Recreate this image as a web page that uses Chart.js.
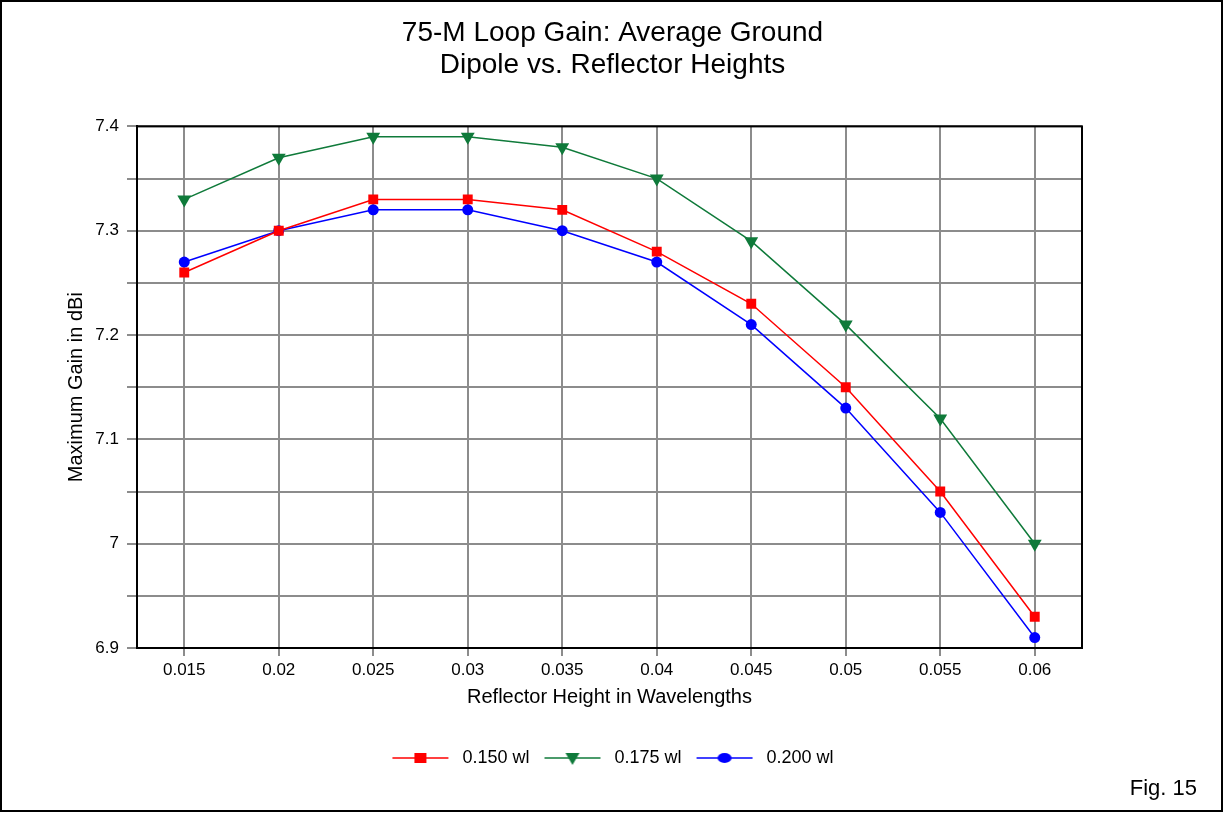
<!DOCTYPE html>
<html>
<head>
<meta charset="utf-8">
<script src="https://cdn.jsdelivr.net/npm/chart.js@4.4.1/dist/chart.umd.min.js"></script>
<style>
  html, body { margin: 0; padding: 0; background: #fff; }
  #wrap { width: 1225px; height: 813px; }
</style>
</head>
<body>
<div id="wrap"><canvas id="chart" width="1225" height="813"></canvas></div>
<script>
// ===========data=======================//
const heights = ["0.015", "0.02", "0.025", "0.03", "0.035", "0.04", "0.045", "0.05", "0.055", "0.06"];
const gain150 = [7.26, 7.30, 7.33, 7.33, 7.32, 7.28, 7.23, 7.15, 7.05, 6.93];
const gain175 = [7.33, 7.37, 7.39, 7.39, 7.38, 7.35, 7.29, 7.21, 7.12, 7.00];
const gain200 = [7.27, 7.30, 7.32, 7.32, 7.30, 7.27, 7.21, 7.13, 7.03, 6.91];
const seriesNames = ["0.150 wl", "0.175 wl", "0.200 wl"];

const font = "'Liberation Sans', Arial, sans-serif";
const red = "#ff0000", green = "#0f7a3a", blue = "#0000ff";

// ===========legend icons: line with marker in the middle=======================//
function legendIcon(color, style) {
  const c = document.createElement("canvas");
  c.width = 62; c.height = 16;
  const ctx = c.getContext("2d");
  ctx.strokeStyle = color;
  ctx.fillStyle = color;
  ctx.lineWidth = 1.5;
  ctx.beginPath();
  ctx.moveTo(1, 8); ctx.lineTo(57, 8);
  ctx.stroke();
  ctx.beginPath();
  if (style === "rect") {
    ctx.rect(23, 3, 12, 10);
  } else if (style === "tri") {
    ctx.moveTo(22, 3); ctx.lineTo(36, 3); ctx.lineTo(29, 15); ctx.closePath();
  } else {
    ctx.ellipse(29, 8, 7, 5, 0, 0, Math.PI * 2);
  }
  ctx.fill();
  return c;
}
const icons = [legendIcon(red, "rect"), legendIcon(green, "tri"), legendIcon(blue, "circle")];

// ===========frame, plot border and figure label=======================//
const extras = {
  id: "extras",
  beforeDraw(chart) {
    const ctx = chart.ctx;
    ctx.save();
    ctx.fillStyle = "#fff";
    ctx.fillRect(0, 0, chart.width, chart.height);
    ctx.restore();
  },
  afterDraw(chart) {
    const ctx = chart.ctx;
    const a = chart.chartArea;
    ctx.save();
    ctx.strokeStyle = "#000";
    ctx.lineWidth = 2;
    ctx.strokeRect(a.left, a.top, a.right - a.left, a.bottom - a.top);
    ctx.strokeRect(1, 1, chart.width - 4, chart.height - 3);
    ctx.fillStyle = "#000";
    ctx.font = "22px " + font;
    ctx.textAlign = "right";
    ctx.textBaseline = "middle";
    ctx.fillText("Fig. 15", 1197, 789);
    ctx.restore();
  }
};

const chart = document.getElementById("chart");

new Chart(chart, {
  type: "line",
  data: {
    labels: heights,
    datasets: [
      { label: seriesNames[0], data: gain150, borderColor: red, backgroundColor: red,
        pointStyle: "rect", pointRadius: 7, pointHoverRadius: 7 },
      { label: seriesNames[1], data: gain175, borderColor: green, backgroundColor: green,
        pointStyle: "triangle", rotation: 180, pointRadius: 8, pointHoverRadius: 8 },
      { label: seriesNames[2], data: gain200, borderColor: blue, backgroundColor: blue,
        pointStyle: "circle", pointRadius: 5.5, pointHoverRadius: 5.5 }
    ]
  },
  options: {
    responsive: false,
    animation: false,
    events: [],
    layout: { padding: { left: 0, right: 0, top: 0, bottom: 36 } },
    elements: { line: { borderWidth: 1.5, tension: 0 }, point: { borderWidth: 0 } },
    scales: {
      x: {
        offset: true,
        grid: { color: "#8c8c8c", lineWidth: 2, offset: false, tickLength: 8 },
        border: { color: "#000", width: 2 },
        ticks: { color: "#000", font: { family: font, size: 17 }, padding: 4, maxRotation: 0 },
        title: { display: true, text: "Reflector Height in Wavelengths", color: "#000",
                 font: { family: font, size: 20 }, padding: { top: 4, bottom: 26 } },
        afterFit(scale) { scale.height = 87; }
      },
      y: {
        min: 6.9, max: 7.4,
        grid: { color: "#8c8c8c", lineWidth: 2, tickLength: 10 },
        border: { color: "#000", width: 2 },
        ticks: {
          stepSize: 0.05, color: "#000", font: { family: font, size: 17 }, padding: 8,
          callback: (v) => Math.round(v * 100) % 10 === 0 ? String(parseFloat(v.toFixed(1))) : ""
        },
        title: { display: true, text: "Maximum Gain in dBi", color: "#000",
                 font: { family: font, size: 20 }, padding: { top: 64, bottom: 0 } },
        afterFit(scale) { scale.width = 137; }
      },
      yRight: {
        position: "right",
        grid: { display: false },
        ticks: { display: false },
        border: { display: false },
        afterFit(scale) { scale.width = 143; }
      }
    },
    plugins: {
      title: {
        display: true,
        text: ["75-M Loop Gain: Average Ground", "Dipole vs. Reflector Heights"],
        color: "#000",
        font: { family: font, size: 28, weight: "normal", lineHeight: 1.15 },
        padding: { top: 17, bottom: 45 }
      },
      legend: {
        position: "bottom",
        labels: {
          color: "#000",
          font: { family: font, size: 18 },
          usePointStyle: true,
          pointStyleWidth: 62,
          boxHeight: 16,
          padding: 14,
          generateLabels: (c) => c.data.datasets.map((ds, i) => ({
            text: ds.label,
            pointStyle: icons[i],
            fillStyle: ds.borderColor,
            strokeStyle: ds.borderColor,
            lineWidth: 0,
            fontColor: "#000",
            datasetIndex: i
          }))
        }
      },
      tooltip: { enabled: false }
    }
  },
  plugins: [extras]
});
</script>
</body>
</html>
